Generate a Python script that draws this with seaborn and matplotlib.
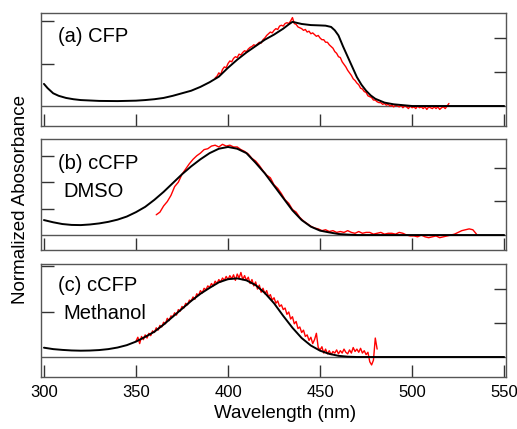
import numpy as np
import matplotlib
matplotlib.use("Agg")
import matplotlib.pyplot as plt
import seaborn as sns

# black = computed spectra, red = measured spectra (normalized)
calc_a_nm = [300, 302, 305, 308, 312, 316, 320, 330, 340, 350, 355, 360, 365, 370, 375, 380, 385, 390,
             395, 400, 405, 410, 415, 420, 425, 430, 433, 435, 437, 440, 445, 450, 453, 456, 458, 460,
             462.5, 465, 467.5, 470, 472.5, 475, 477.5, 480, 485, 490, 495, 500, 550]
calc_a = [0.26, 0.21, 0.15, 0.12, 0.095, 0.08, 0.07, 0.06, 0.058, 0.063, 0.07, 0.08, 0.095, 0.12, 0.15,
          0.18, 0.225, 0.28, 0.345, 0.45, 0.545, 0.63, 0.705, 0.78, 0.84, 0.91, 0.96, 0.99, 0.98, 0.965,
          0.952, 0.948, 0.945, 0.93, 0.89, 0.83, 0.70, 0.58, 0.46, 0.34, 0.25, 0.18, 0.125, 0.085, 0.04,
          0.02, 0.01, 0.0, 0.0]

calc_b_nm = [300, 305, 310, 315, 320, 325, 330, 335, 340, 345, 350, 355, 360, 365, 370, 375, 380, 385,
             390, 395, 400, 405, 410, 415, 420, 425, 430, 435, 440, 445, 450, 455, 460, 465, 470, 550]
calc_b = [0.17, 0.145, 0.125, 0.115, 0.113, 0.12, 0.132, 0.15, 0.175, 0.21, 0.26, 0.32, 0.40, 0.49, 0.59,
          0.69, 0.78, 0.86, 0.93, 0.98, 1.0, 0.98, 0.93, 0.82, 0.70, 0.56, 0.42, 0.28, 0.17, 0.095, 0.05,
          0.03, 0.012, 0.005, 0.0, 0.0]

calc_c_nm = [300, 305, 310, 315, 320, 325, 330, 335, 340, 345, 350, 355, 360, 365, 370, 375, 380, 385,
             390, 395, 400, 405, 410, 415, 420, 425, 430, 435, 440, 445, 450, 455, 460, 465, 470, 550]
calc_c = [0.118, 0.10, 0.09, 0.083, 0.08, 0.082, 0.088, 0.10, 0.12, 0.15, 0.195, 0.255, 0.32, 0.41, 0.51,
          0.61, 0.71, 0.80, 0.875, 0.945, 0.985, 0.995, 0.97, 0.91, 0.81, 0.68, 0.52, 0.37, 0.24, 0.145,
          0.08, 0.04, 0.015, 0.004, 0.0, 0.0]

meas_a_nm = np.arange(393, 521, 1)
meas_a = [0.33, 0.35, 0.39, 0.37, 0.43, 0.46, 0.45, 0.50, 0.53, 0.52,
          0.56, 0.58, 0.57, 0.61, 0.60, 0.63, 0.65, 0.64, 0.67, 0.69,
          0.70, 0.72, 0.71, 0.73, 0.75, 0.74, 0.78, 0.80, 0.83, 0.85,
          0.87, 0.86, 0.89, 0.91, 0.90, 0.94, 0.95, 0.94, 0.97, 0.98,
          0.97, 1.00, 1.04, 0.97, 0.96, 0.93, 0.92, 0.91, 0.89, 0.90,
          0.87, 0.88, 0.85, 0.86, 0.84, 0.82, 0.83, 0.80, 0.78, 0.78,
          0.75, 0.75, 0.72, 0.70, 0.68, 0.64, 0.62, 0.58, 0.57, 0.52,
          0.49, 0.46, 0.42, 0.39, 0.36, 0.32, 0.30, 0.27, 0.25, 0.21,
          0.20, 0.17, 0.16, 0.12, 0.11, 0.10, 0.07, 0.07, 0.05, 0.04,
          0.04, 0.02, 0.03, 0.01, 0.02, 0.00, 0.01, -0.01, 0.01, 0.00,
          -0.01, 0.01, -0.02, 0.00, -0.01, -0.03, 0.00, -0.02, -0.01, -0.03,
          0.00, -0.02, -0.01, -0.03, -0.01, -0.04, -0.01, -0.02, -0.03, -0.01,
          -0.03, -0.01, -0.04, -0.02, -0.01, -0.03, 0.00, 0.03]

meas_b_nm = np.arange(361, 536, 2)
meas_b = [0.23, 0.26, 0.33, 0.38, 0.45, 0.55, 0.60, 0.69, 0.75, 0.81,
          0.86, 0.90, 0.93, 0.97, 0.98, 1.01, 1.02, 1.00, 1.03, 1.01,
          1.02, 1.00, 1.00, 0.97, 0.95, 0.92, 0.87, 0.84, 0.79, 0.73,
          0.68, 0.65, 0.57, 0.53, 0.47, 0.40, 0.36, 0.29, 0.26, 0.20,
          0.16, 0.13, 0.10, 0.08, 0.07, 0.05, 0.06, 0.04, 0.05, 0.03,
          0.04, 0.03, 0.05, 0.03, 0.02, 0.04, 0.02, 0.03, 0.03, 0.01,
          0.02, 0.03, 0.01, 0.02, 0.02, 0.01, 0.03, 0.02, 0.00, -0.01,
          -0.01, -0.02, 0.00, -0.02, -0.03, -0.02, -0.01, -0.03, -0.02, -0.01,
          0.00, 0.01, 0.03, 0.05, 0.06, 0.07, 0.06, 0.01]

meas_c_nm = np.arange(350, 482, 1)
meas_c = [0.20, 0.25, 0.17, 0.26, 0.22, 0.28, 0.24, 0.30, 0.27, 0.33,
          0.31, 0.37, 0.34, 0.40, 0.38, 0.44, 0.42, 0.49, 0.46, 0.52,
          0.51, 0.56, 0.53, 0.60, 0.58, 0.64, 0.62, 0.68, 0.66, 0.72,
          0.71, 0.76, 0.73, 0.80, 0.78, 0.84, 0.81, 0.87, 0.85, 0.90,
          0.88, 0.93, 0.90, 0.96, 0.93, 0.98, 0.95, 1.00, 0.97, 1.02,
          0.98, 1.03, 0.99, 1.04, 0.97, 1.05, 1.00, 1.07, 0.98, 1.03,
          0.97, 1.01, 0.93, 0.98, 0.90, 0.95, 0.86, 0.91, 0.82, 0.87,
          0.80, 0.84, 0.76, 0.79, 0.72, 0.75, 0.68, 0.71, 0.64, 0.66,
          0.60, 0.62, 0.54, 0.57, 0.48, 0.51, 0.42, 0.45, 0.36, 0.38,
          0.31, 0.34, 0.26, 0.28, 0.21, 0.25, 0.17, 0.22, 0.30, 0.12,
          0.09, 0.13, 0.05, 0.10, 0.04, 0.08, 0.03, 0.07, 0.05, 0.09,
          0.04, 0.08, 0.05, 0.10, 0.06, 0.04, 0.09, 0.05, 0.12, 0.07,
          0.10, 0.06, 0.11, 0.05, 0.08, 0.03, 0.06, -0.06, -0.10, -0.04,
          0.24, 0.10]

labels = [["(a) CFP"], ["(b) cCFP", "DMSO"], ["(c) cCFP", "Methanol"]]
xticks = [300, 350, 400, 450, 500, 550]

sns.set_style("ticks")
plt.rcParams['font.family'] = ['Liberation Sans', 'DejaVu Sans']
plt.rcParams['text.color'] = 'black'
plt.rcParams['xtick.labelcolor'] = 'black'

fig = plt.figure(figsize=(5.17, 4.29), dpi=100)

# panel boxes in figure fractions: left, bottom, width, height
boxes = [(0.0793, 0.7063, 0.8994, 0.2634),
         (0.0793, 0.4172, 0.8994, 0.2587),
         (0.0793, 0.1212, 0.8994, 0.2634)]
ylims = [(-0.235, 1.094), (-0.17, 1.09), (-0.253, 1.177)]
left_ticks = [[0.5, 1.0], [0.3, 0.6, 0.9], [0.57, 1.15]]
right_ticks = [[0.4, 0.8], [0.386, 0.76], [0.43, 0.86]]
calc = [(calc_a_nm, calc_a), (calc_b_nm, calc_b), (calc_c_nm, calc_c)]
meas = [(meas_a_nm, meas_a), (meas_b_nm, meas_b), (meas_c_nm, meas_c)]
text_pos = [[(0.037, 0.788)], [(0.037, 0.784), (0.049, 0.523)], [(0.037, 0.814), (0.049, 0.566)]]

spine_col = '#555555'
for i in range(3):
    ax = fig.add_axes(boxes[i])
    ax.axhline(0, color=spine_col, lw=1.0, zorder=1)
    sns.lineplot(x=meas[i][0], y=meas[i][1], ax=ax, color='#ff0000', lw=1.0,
                 estimator=None, sort=False, zorder=2)
    sns.lineplot(x=calc[i][0], y=calc[i][1], ax=ax, color='black', lw=1.4,
                 estimator=None, sort=False, zorder=3)
    ax.set_xlim(298.4, 551)
    ax.set_ylim(*ylims[i])
    ax.set_xticks(xticks)
    ax.set_yticks(left_ticks[i])
    ax.set_yticklabels([])
    ax.tick_params(axis='x', direction='in', length=9, width=1, color='#333333',
                   labelsize=12, pad=6, labelbottom=(i == 2))
    ax.tick_params(axis='y', direction='in', length=9, width=1, color='#333333', left=True)
    for s in ax.spines.values():
        s.set_visible(True)
        s.set_color(spine_col)
        s.set_linewidth(1.0)
    ax.set_xlabel("")
    ax.set_ylabel("")

    ax2 = ax.twinx()
    ax2.set_ylim(*ylims[i])
    ax2.set_yticks(right_ticks[i])
    ax2.set_yticklabels([])
    ax2.tick_params(axis='y', direction='in', length=9, width=1, color='#333333')
    for s in ax2.spines.values():
        s.set_visible(False)

    for txt, (tx, ty) in zip(labels[i], text_pos[i]):
        ax.text(tx, ty, txt, transform=ax.transAxes, fontsize=14.5, va='center', ha='left')

fig.text(0.039, 0.534, "Normalized Abosorbance", rotation=90, fontsize=13.5, ha='center', va='center')
fig.text(0.551, 0.037, "Wavelength (nm)", fontsize=13.5, ha='center', va='center')

fig.savefig("out.png", dpi=100)
